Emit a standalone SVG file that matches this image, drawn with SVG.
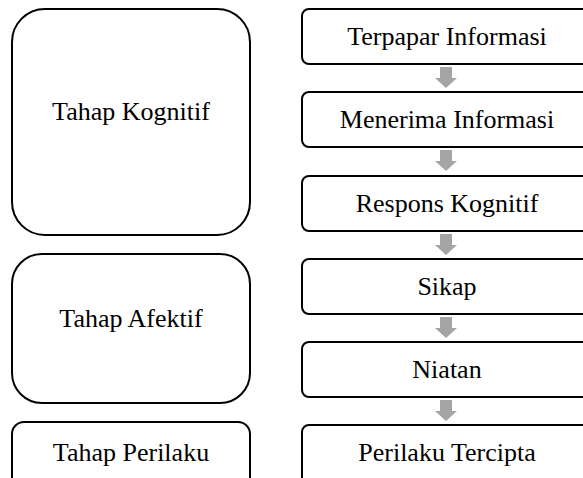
<svg xmlns="http://www.w3.org/2000/svg" width="583" height="478" viewBox="0 0 583 478">
<style>
.box{fill:#fff;stroke:#000;stroke-width:2}
.t{font-family:'Liberation Serif','DejaVu Serif',serif;font-size:26px;fill:#000;text-anchor:middle}
.arr{fill:#a5a5a5}
</style>
<defs>
<path id="ar" d="M-6,0 H6 V11 H11 L0,21 L-11,11 H-6 Z"/>
</defs>
<rect width="583" height="478" fill="#fff"/>
<g id="tahap-kognitif"><rect class="box" x="12" y="9" width="238" height="226" rx="33"/><text class="t" x="131" y="120" font-family="Liberation Serif">Tahap Kognitif</text></g>
<g id="tahap-afektif"><rect class="box" x="12" y="254" width="238" height="149" rx="30"/><text class="t" x="131" y="327">Tahap Afektif</text></g>
<g id="tahap-perilaku"><rect class="box" x="12" y="422" width="238" height="70" rx="12"/><text class="t" x="131" y="461">Tahap Perilaku</text></g>
<g id="terpapar"><rect class="box" x="302" y="9" width="290" height="55" rx="7"/><text class="t" x="447" y="45">Terpapar Informasi</text></g>
<g id="menerima"><rect class="box" x="302" y="92" width="290" height="55" rx="7"/><text class="t" x="447" y="128">Menerima Informasi</text></g>
<g id="respons"><rect class="box" x="302" y="176" width="290" height="55" rx="7"/><text class="t" x="447" y="212">Respons Kognitif</text></g>
<g id="sikap"><rect class="box" x="302" y="259" width="290" height="55" rx="7"/><text class="t" x="447" y="295">Sikap</text></g>
<g id="niatan"><rect class="box" x="302" y="342" width="290" height="55" rx="7"/><text class="t" x="447" y="378">Niatan</text></g>
<g id="perilaku-tercipta"><rect class="box" x="302" y="425" width="290" height="70" rx="7"/><text class="t" x="447" y="461">Perilaku Tercipta</text></g>
<g id="connectors" class="arr">
<use href="#ar" x="446" y="67"/>
<use href="#ar" x="446" y="150"/>
<use href="#ar" x="446" y="234"/>
<use href="#ar" x="446" y="317"/>
<use href="#ar" x="446" y="400"/>
</g>
</svg>
